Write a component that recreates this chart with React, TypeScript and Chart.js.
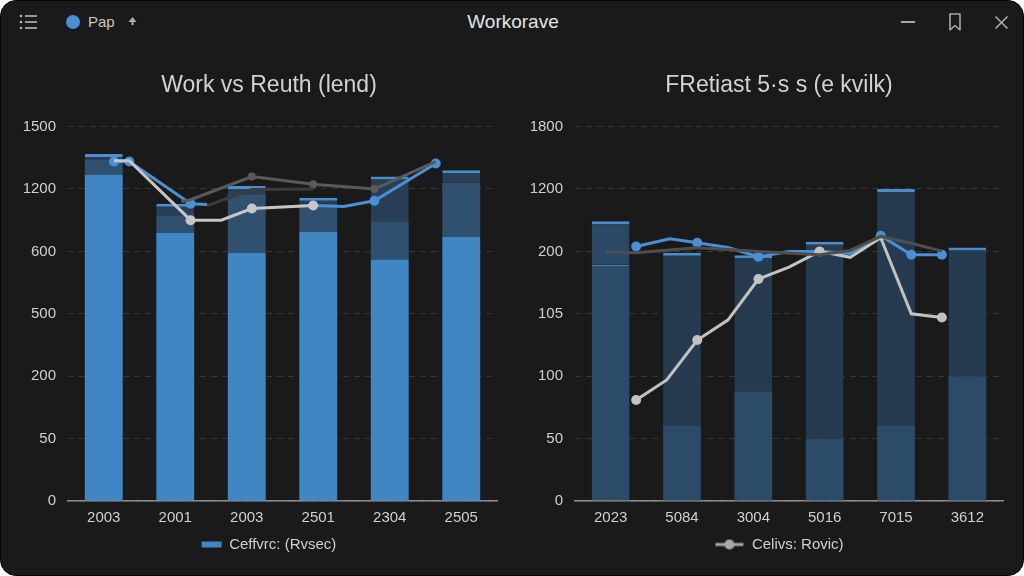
import { useEffect, useRef } from "react"
import { Chart, type ChartConfiguration, registerables } from "chart.js"

Chart.register(...registerables)

// left panel
const leftTitle = "Work vs Reuth (lend)"
const leftLegend = "Ceffvrc: (Rvsec)"
const leftCategories = ["2003", "2001", "2003", "2501", "2304", "2505"]
const leftTicks = [0, 50, 200, 500, 600, 1200, 1500]
const leftBase = [1268, 778, 598, 787, 587, 740]
const leftMid = [1340, 940, 1150, 1060, 890, 1230]
const leftTop = [1368, 1059, 1215, 1115, 1260, 1290]
const leftBlueX = [-0.25, 0, 1, 1.27, 2, 3, 3.5, 4, 5]
const leftBlue = [1332, 1332, 1059, 1050, null, 1041, 1031, 1087, 1323]
const leftBlueDots = [1, 1, 1, 0, 0, 0, 0, 1, 1]
const leftWhiteX = [-0.25, 0, 1, 1.5, 2, 3]
const leftWhite = [1336, 1336, 900, 900, 1012, 1041]
const leftWhiteDots = [0, 0, 1, 0, 1, 1]
const leftGrayX = [0.85, 1, 2, 3, 4, 5]
const leftGray = [1080, 1097, 1260, 1223, 1200, 1332]
const leftGrayDots = [0, 0, 1, 1, 1, 0]
const leftFaintX = [1.27, 2, 3]
const leftFaint = [1040, 1195, 1200]

// right panel
const rightTitle = "FRetiast 5·s s (e kvilk)"
const rightLegend = "Celivs: Rovic)"
const rightCategories = ["2023", "5084", "3004", "5016", "7015", "3612"]
const rightTicks = [0, 50, 100, 105, 200, 1200, 1800]
const rightLow = [180, 60, 88, 50, 60, 100]
const rightHigh = [684, 198, 194, 356, 1200, 262]
const rightBlueX = [0, 0.55, 1, 1.5, 2, 2.5, 3, 3.5, 4, 4.5, 5]
const rightBlue = [278, 403, 340, 262, 192, 200, 200, 197, 450, 195, 195]
const rightBlueDots = [1, 0, 1, 0, 1, 0, 0, 0, 1, 1, 1]
const rightWhiteX = [0, 0.5, 1, 1.5, 2, 2.5, 3, 3.5, 4, 4.5, 5]
const rightWhite = [81, 97, 102.9, 104.5, 158, 176, 200, 191, 419, 105, 104.7]
const rightWhiteDots = [1, 0, 1, 0, 1, 0, 1, 0, 0, 0, 1]
const rightGrayX = [-0.5, 0, 1, 1.5, 2, 3, 3.5, 4, 4.5, 5]
const rightGray = [200, 198, 260, 230, 200, 195, 215, 440, 330, 205]

const FONT = "'Liberation Sans', Arial, sans-serif"

// tick labels are evenly spaced but not evenly valued, so map piecewise
function toPos(v: number | null, ticks: number[]) {
  if (v === null) return null
  for (let i = 0; i < ticks.length - 1; i++) {
    if (v <= ticks[i + 1]) return i + (v - ticks[i]) / (ticks[i + 1] - ticks[i])
  }
  const n = ticks.length - 1
  return n + (v - ticks[n]) / (ticks[n] - ticks[n - 1])
}

function range(lo: number[] | null, hi: number[], ticks: number[]) {
  return hi.map((h, i) => [toPos(lo ? lo[i] : 0, ticks), toPos(h, ticks)])
}

function points(xs: number[], ys: (number | null)[], ticks: number[]) {
  return xs.map((x, i) => ({ x, y: toPos(ys[i], ticks) }))
}

function lineSet(label: string, xs: number[], ys: (number | null)[], ticks: number[], color: string, dots?: number[], r = 5) {
  return {
    type: "line" as const,
    label,
    xAxisID: "xl",
    data: points(xs, ys, ticks),
    borderColor: color,
    backgroundColor: color,
    borderWidth: 3,
    tension: 0,
    spanGaps: false,
    pointRadius: dots ? dots.map((d) => d * r) : 0,
    pointBorderWidth: 0,
    order: 0,
  }
}

function makeLegendIcon() {
  const c = document.createElement("canvas")
  c.width = 30
  c.height = 12
  const g = c.getContext("2d")!
  g.strokeStyle = "#a9a9a9"
  g.lineWidth = 3
  g.beginPath()
  g.moveTo(1, 6)
  g.lineTo(29, 6)
  g.stroke()
  g.fillStyle = "#a9a9a9"
  g.beginPath()
  g.arc(15, 6, 5, 0, Math.PI * 2)
  g.fill()
  return c
}

// the y axis box is kept narrow so title and legend centre where the reference
// has them; widen its label clip area after layout so the labels still show
const widenY = {
  id: "widenY",
  afterLayout(chart: any) {
    chart.scales.y.left -= 40
  },
}

function baseOptions(title: string, ticks: number[], legend: any, padding: any, yWidth: number): any {
  return {
    responsive: true,
    maintainAspectRatio: false,
    animation: false,
    layout: { padding },
    plugins: {
      title: {
        display: true,
        text: title,
        color: "#d2d2d2",
        font: { family: FONT, size: 23, weight: "normal" },
        padding: { top: 21, bottom: 27 },
      },
      legend,
      tooltip: { enabled: false },
    },
    scales: {
      x: {
        type: "category",
        offset: true,
        grid: { display: false },
        border: { display: true, color: "#8c8c8c", width: 1.5 },
        ticks: { color: "#d0d0d0", font: { family: FONT, size: 15 }, padding: 0 },
      },
      xl: { type: "linear", min: -0.5, max: 5.5, display: false },
      y: {
        min: 0,
        max: 6,
        grid: { color: "rgba(255,255,255,0.13)", drawTicks: false },
        border: { display: false, dash: [6, 5] },
        ticks: {
          stepSize: 1,
          color: "#d0d0d0",
          font: { family: FONT, size: 15 },
          padding: 12,
          callback: (v: number) => String(ticks[v]),
        },
        afterFit: (scale: any) => {
          scale.width = yWidth
        },
      },
    },
  }
}

function leftConfig(): ChartConfiguration {
  const cap = { top: 3, left: 0, right: 0, bottom: 0 }
  return {
    type: "bar",
    data: {
      labels: leftCategories,
      datasets: [
        lineSet("faint", leftFaintX, leftFaint, leftTicks, "#3c3c3c"),
        lineSet("gray", leftGrayX, leftGray, leftTicks, "#5a5a5a", leftGrayDots, 4),
        lineSet("white", leftWhiteX, leftWhite, leftTicks, "#c6c6c6", leftWhiteDots),
        lineSet("blue", leftBlueX, leftBlue, leftTicks, "#4a90d6", leftBlueDots),
        {
          label: leftLegend,
          data: range(null, leftBase, leftTicks),
          backgroundColor: "#3f86c3",
          grouped: false,
          barPercentage: 0.53,
          categoryPercentage: 1,
          order: 1,
        },
        {
          label: "mid",
          data: range(leftBase, leftMid, leftTicks),
          backgroundColor: "#2f506e",
          grouped: false,
          barPercentage: 0.53,
          categoryPercentage: 1,
          order: 1,
        },
        {
          label: "top",
          data: range(leftMid, leftTop, leftTicks),
          backgroundColor: "#283f55",
          borderColor: "#4a8fd2",
          borderWidth: cap,
          borderSkipped: false,
          grouped: false,
          barPercentage: 0.53,
          categoryPercentage: 1,
          order: 1,
        },
      ] as any,
    },
    options: baseOptions(
      leftTitle,
      leftTicks,
      {
        position: "bottom",
        labels: {
          color: "#d0d0d0",
          font: { family: FONT, size: 15 },
          boxWidth: 20,
          boxHeight: 6,
          padding: 10,
          filter: (item: any) => item.text === leftLegend,
        },
      },
      { left: 28, right: 28, top: 0, bottom: 5 },
      27
    ),
    plugins: [widenY],
  }
}

function rightConfig(): ChartConfiguration {
  return {
    type: "bar",
    data: {
      labels: rightCategories,
      datasets: [
        lineSet("gray", rightGrayX, rightGray, rightTicks, "#4e4e4e"),
        lineSet(rightLegend, rightWhiteX, rightWhite, rightTicks, "#c2c2c2", rightWhiteDots),
        lineSet("blue", rightBlueX, rightBlue, rightTicks, "#4a8fd4", rightBlueDots),
        {
          label: "low",
          data: range(null, rightLow, rightTicks),
          backgroundColor: "#2c4b68",
          borderColor: "#3f7fbd",
          borderWidth: (c: any) => (c.dataIndex === 0 ? { top: 2, left: 0, right: 0, bottom: 0 } : 0),
          borderSkipped: false,
          grouped: false,
          barPercentage: 0.53,
          categoryPercentage: 1,
          order: 1,
        },
        {
          label: "high",
          data: range(rightLow, rightHigh, rightTicks),
          backgroundColor: (c: any) => (c.dataIndex === 0 ? "#2b4864" : "#263b4f"),
          borderColor: "#4a8ccc",
          borderWidth: { top: 3, left: 0, right: 0, bottom: 0 },
          borderSkipped: false,
          grouped: false,
          barPercentage: 0.53,
          categoryPercentage: 1,
          order: 1,
        },
      ] as any,
    },
    options: baseOptions(
      rightTitle,
      rightTicks,
      {
        position: "bottom",
        labels: {
          color: "#d0d0d0",
          font: { family: FONT, size: 15 },
          usePointStyle: true,
          pointStyle: makeLegendIcon(),
          pointStyleWidth: 30,
          padding: 10,
          filter: (item: any) => item.text === rightLegend,
        },
      },
      { left: 34, right: 22, top: 0, bottom: 5 },
      20
    ),
    plugins: [widenY],
  }
}

function ChartCanvas({ build, style }: { build: () => ChartConfiguration; style: React.CSSProperties }) {
  const ref = useRef<HTMLCanvasElement>(null)
  const inst = useRef<Chart | null>(null)

  useEffect(() => {
    if (!ref.current) return
    const ctx = ref.current.getContext("2d")
    if (!ctx) return
    if (inst.current) inst.current.destroy()
    inst.current = new Chart(ctx, build())
    return () => {
      if (inst.current) inst.current.destroy()
      inst.current = null
    }
  }, [])

  return (
    <div style={{ position: "absolute", ...style }}>
      <canvas ref={ref} />
    </div>
  )
}

export default function App() {
  const txt: React.CSSProperties = { position: "absolute", fontFamily: FONT, color: "#c8c8c8" }
  return (
    <div style={{ position: "fixed", left: 0, top: 0, width: 1024, height: 576, background: "#ffffff", overflow: "hidden" }}>
      <div
        style={{
          position: "absolute",
          left: 0,
          top: 0,
          width: 1022,
          height: 574,
          borderRadius: 16,
          border: "1px solid #050505",
          background: "#1a1a1a",
          overflow: "hidden",
        }}
      >
        {/* title bar */}
        <svg style={{ position: "absolute", left: 18, top: 13 }} width="20" height="16" viewBox="0 0 20 16">
          <g fill="#b5b5b5">
            <circle cx="2" cy="2" r="1.3" />
            <circle cx="2" cy="8" r="1.3" />
            <circle cx="2" cy="14" r="1.3" />
            <rect x="6" y="1.2" width="12" height="1.6" />
            <rect x="6" y="7.2" width="12" height="1.6" />
            <rect x="6" y="13.2" width="12" height="1.6" />
          </g>
        </svg>
        <div style={{ position: "absolute", left: 65, top: 14, width: 14, height: 14, borderRadius: 7, background: "#4a8fd4" }} />
        <div style={{ ...txt, left: 87, top: 12, fontSize: 15 }}>Pap</div>
        <svg style={{ position: "absolute", left: 127, top: 16 }} width="9" height="9" viewBox="0 0 9 9">
          <path d="M4.5 0 L8.5 5 L5.5 5 L5.5 8 L3.5 8 L3.5 5 L0.5 5 Z" fill="#b0b0b0" />
        </svg>
        <div style={{ ...txt, left: 412, width: 200, textAlign: "center", top: 10, fontSize: 19, color: "#e4e4e4" }}>Workorave</div>
        <div style={{ position: "absolute", left: 900, top: 20, width: 14, height: 1.5, background: "#a8a8a8" }} />
        <svg style={{ position: "absolute", left: 947, top: 12 }} width="14" height="18" viewBox="0 0 14 18">
          <path d="M2 1 H12 V17 L7 12.5 L2 17 Z" fill="none" stroke="#a8a8a8" strokeWidth="1.6" strokeLinejoin="round" />
        </svg>
        <svg style={{ position: "absolute", left: 993, top: 14 }} width="15" height="15" viewBox="0 0 15 15">
          <path d="M1.5 1.5 L13.5 13.5 M13.5 1.5 L1.5 13.5" stroke="#a8a8a8" strokeWidth="1.6" />
        </svg>

        <ChartCanvas build={leftConfig} style={{ left: 12, top: 50, width: 512, height: 516 }} />
        <ChartCanvas build={rightConfig} style={{ left: 520, top: 50, width: 504, height: 516 }} />
      </div>
    </div>
  )
}
